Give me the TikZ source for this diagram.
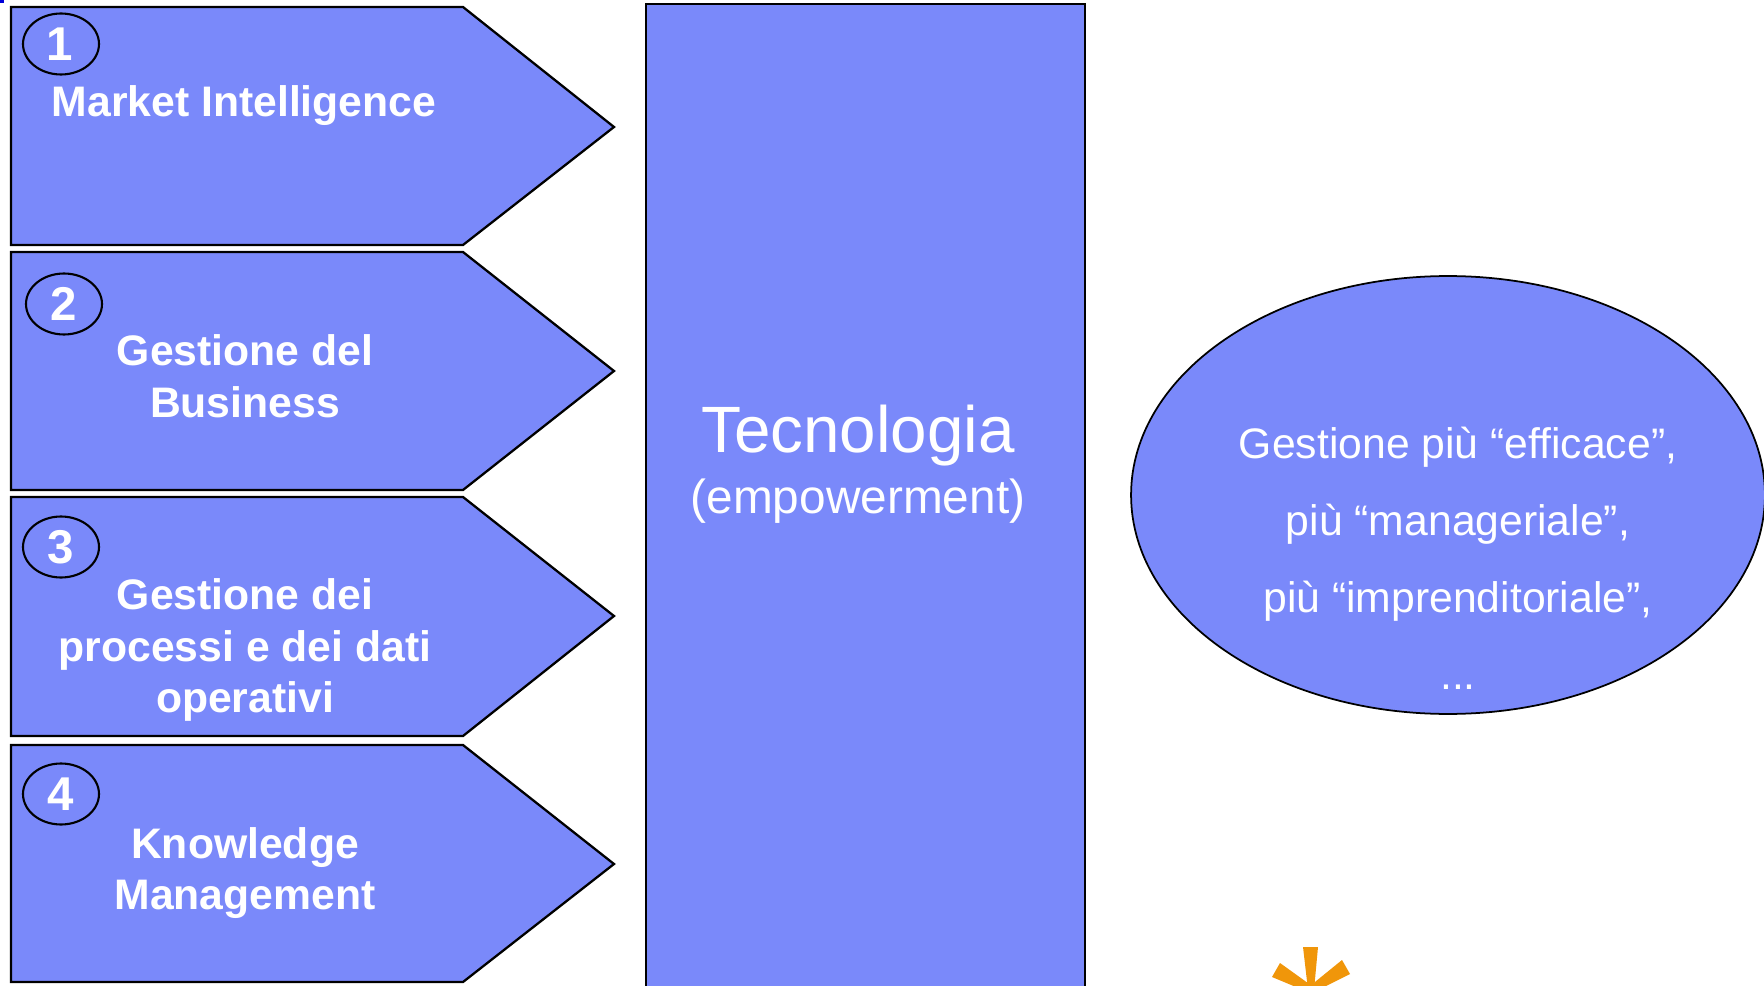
\documentclass[tikz,border=0pt]{standalone}
\usepackage{fontspec}
\setmainfont{Liberation Sans}
\usetikzlibrary{positioning}
\usetikzlibrary{shapes.geometric}
\definecolor{panelblue}{RGB}{122,137,250}
\definecolor{starorange}{RGB}{240,150,10}

\begin{document}
\begin{tikzpicture}[
			x=0.02cm, y=-0.02cm,
			tag/.style={draw=black, fill=panelblue, line width=1.3pt, line join=miter},
			number/.style={ellipse, draw=black, line width=1.2pt, text=white, inner sep=0pt, minimum width=1.52cm, minimum height=1.22cm, font=\fontsize{27}{27}\selectfont\bfseries},
			title/.style={text=white, align=center, inner sep=0pt, font=\fontsize{24.3}{29.5}\selectfont\bfseries},
			line/.style={text=white, inner sep=0pt, font=\fontsize{24.3}{29}\selectfont},
			]
			\useasboundingbox (0,0) rectangle (1764,986);
			\clip (0,0) rectangle (1764,986);

			%Shapes
				\fill[blue!85!black] (0,0) rectangle (4,3);
				\draw[tag] (11,7) -- (463,7) -- (614,127) -- (463,245) -- (11,245) -- cycle;
				\draw[tag] (11,252) -- (463,252) -- (614,371) -- (463,490) -- (11,490) -- cycle;
				\draw[tag] (11,497) -- (463,497) -- (614,616) -- (463,736) -- (11,736) -- cycle;
				\draw[tag] (11,745) -- (463,745) -- (614,864) -- (463,982) -- (11,982) -- cycle;

			%Nodes
				\node[number]	(num-1)		at (61,44)		{\hspace{-2pt}1};
				\node[number]	(num-2)		at (64,304)		{2};
				\node[number]	(num-3)		at (61,547)		{3};
				\node[number]	(num-4)		at (61,794)		{4};
				\node[title]	(market)	at (244,106)	{Market Intelligence};
				\node[title]	(business)	at (245,376)	{Gestione del\\Business};
				\node[title]	(process)	at (245,650)	{Gestione dei\\processi e dei dati\\operativi};
				\node[title]	(knowledge)	at (245,873)	{Knowledge\\Management};

				\node[rectangle, draw=black, fill=panelblue, line width=1.2pt, outer sep=0pt, minimum width=8.78cm, minimum height=22cm, anchor=north west] (techbox) at (646,4) {};
				\node[text=white, inner sep=0pt, font=\fontsize{37.3}{37.3}\selectfont] (tech) at (858,436) {Tecnologia};
				\node[text=white, inner sep=0pt, font=\fontsize{27.2}{27.2}\selectfont] (power) at (858,501) {(empowerment)};

				\node[ellipse, draw=black, fill=panelblue, line width=1pt, inner sep=0pt, minimum width=12.68cm, minimum height=8.76cm] (result) at (1448,495) {};
				\node[line]	(line-1)	at (1458,447)	{Gestione più “efficace”,};
				\node[line]	(line-2)	at (1458,524)	{più “manageriale”,};
				\node[line]	(line-3)	at (1458,601)	{più “imprenditoriale”,};
				\node[line]	(line-4)	at (1458,687)	{...};

			%Star
				\fill[starorange] (1303,947) -- (1318,947) -- (1314,990) -- (1308,990) -- cycle;
				\fill[starorange] (1280,963) -- (1272,977) -- (1308,992) -- (1312,986) -- cycle;
				\fill[starorange] (1342,960) -- (1350,974) -- (1314,992) -- (1310,986) -- cycle;
		\end{tikzpicture}
\end{document}
